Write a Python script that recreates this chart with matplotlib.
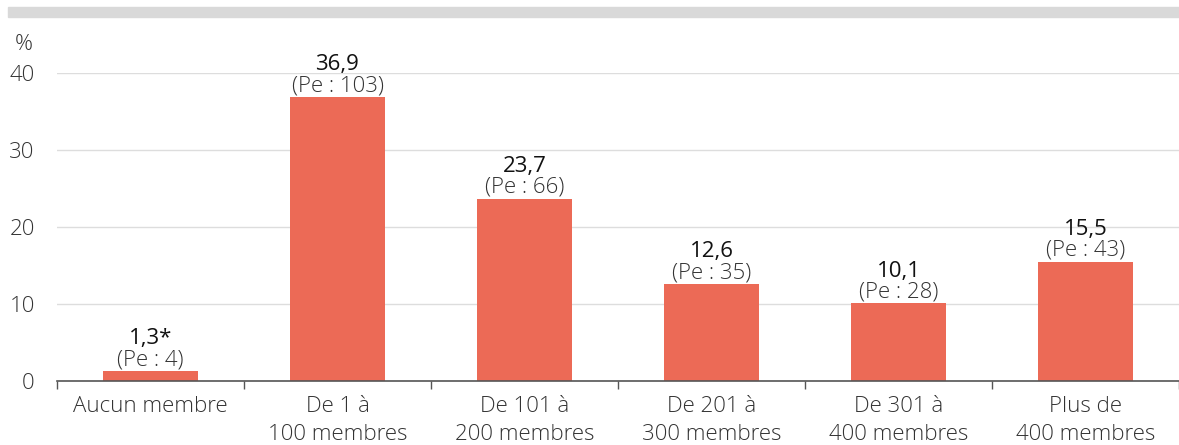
import matplotlib
matplotlib.use("Agg")
import matplotlib.pyplot as plt
from matplotlib.patches import Rectangle

plt.rcParams['font.family'] = ['Open Sans', 'DejaVu Sans']

categories = ["Aucun membre", "De 1 à\n100 membres", "De 101 à\n200 membres",
              "De 201 à\n300 membres", "De 301 à\n400 membres", "Plus de\n400 membres"]
values = [1.3, 36.9, 23.7, 12.6, 10.1, 15.5]
value_labels = ["1,3*", "36,9", "23,7", "12,6", "10,1", "15,5"]
pe_counts = [4, 103, 66, 35, 28, 43]
y_ticks = [0, 10, 20, 30, 40]

W, H = 1179, 445
fig = plt.figure(figsize=(W / 100, H / 100), dpi=100)
ax = fig.add_axes([57 / W, 1 - 381 / H, 1 - 57 / W, (381 - 73) / H])

bar_color = "#EC6A56"
x = range(len(categories))
ax.bar(x, values, width=0.51, color=bar_color, zorder=3)

ax.set_ylim(0, 40)
ax.set_xlim(-0.5, 5.5 - 6 / 188)
ax.set_yticks(y_ticks)
ax.set_yticklabels([str(t) for t in y_ticks], fontsize=16, color="#333333",
                   fontweight="light")
ax.yaxis.grid(True, color="#dddddd", linewidth=1, zorder=0)
ax.tick_params(axis="y", length=0, pad=16)

ax.set_xticks(list(x))
ax.set_xticklabels(categories, fontsize=16, color="#333333", linespacing=1.45,
                   fontweight="light")
ax.tick_params(axis="x", which="major", length=0, pad=11)
ax.set_xticks([i - 0.5 for i in range(len(categories) + 1)], minor=True)
ax.tick_params(axis="x", which="minor", length=6, width=1, color="#555555")

for side in ["left", "right", "top"]:
    ax.spines[side].set_visible(False)
ax.spines["bottom"].set_color("#555555")
ax.spines["bottom"].set_linewidth(1.2)
ax.spines["bottom"].set_zorder(4)

for i, v in enumerate(values):
    ax.annotate("(Pe : %d)" % pe_counts[i], (i, v), xytext=(0, 0.5),
                textcoords="offset points", ha="center", va="bottom",
                fontsize=16, color="#333333", fontweight="light",
                annotation_clip=False)
    ax.annotate(value_labels[i], (i, v), xytext=(0, 15.5),
                textcoords="offset points", ha="center", va="bottom",
                fontsize=16, color="#111111", annotation_clip=False)

fig.text(15 / W, 1 - 45 / H, "%", fontsize=16, color="#333333", va="center",
         ha="left", fontweight="light")
fig.patches.append(Rectangle((8 / W, 1 - 17 / H), 1 - 8 / W, 10 / H,
                             transform=fig.transFigure, color="#d9d9d9", zorder=0))

fig.savefig("out.png", dpi=100)
